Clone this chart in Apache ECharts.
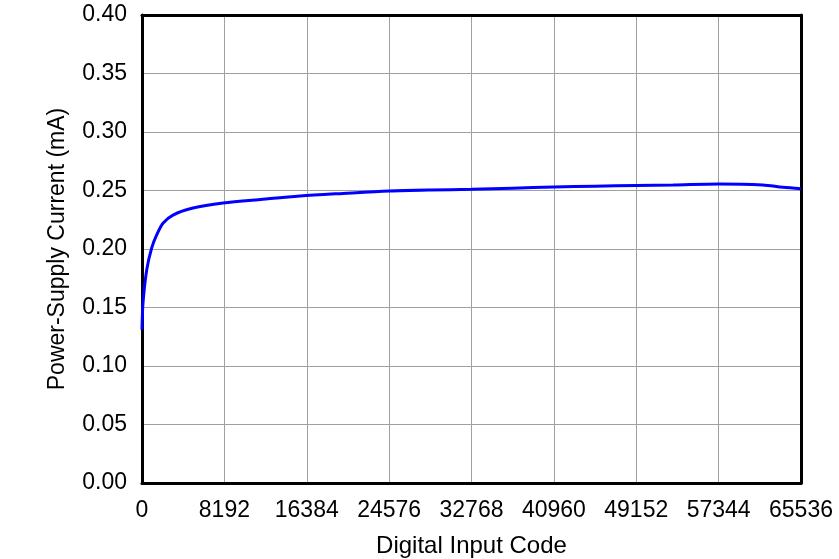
<!DOCTYPE html>
<html><head><meta charset="utf-8">
<script src="https://cdn.jsdelivr.net/npm/echarts@6/dist/echarts.min.js"></script>
<style>html,body{margin:0;padding:0;background:#fff}#c{width:839px;height:559px}</style>
</head><body><div id="c"></div>
<script>
const codes = [0, 100, 467, 964, 1461, 2088, 3082, 5070, 8053, 12000, 15708, 20000, 24576, 28672, 32768, 36864, 40960, 45056, 49152, 52800, 57344, 61740, 63730, 65536];
const current = [0.131, 0.154, 0.182, 0.201, 0.212, 0.222, 0.229, 0.235, 0.2393, 0.2425, 0.2453, 0.2475, 0.2496, 0.2505, 0.251, 0.252, 0.253, 0.2537, 0.2543, 0.2547, 0.2556, 0.2547, 0.2527, 0.2515];
const xTitle = 'Digital Input Code';
const yTitle = 'Power-Supply Current (mA)';

const font = 'Liberation Sans, Arial, sans-serif';
const chart = echarts.init(document.getElementById('c'), null, {renderer: 'canvas'});
const edgeAxis = {show: true, axisLine: {show: true, onZero: false, lineStyle: {color: '#000', width: 3}}, axisTick: {show: false}, axisLabel: {show: false}, splitLine: {show: false}};
chart.setOption({
  animation: false,
  grid: {left: 142, top: 15, right: 38, bottom: 76, containLabel: false, outerBoundsMode: 'none'},
  xAxis: [{
    type: 'value', min: 0, max: 65536, interval: 8192,
    name: xTitle, nameLocation: 'middle', nameGap: 51,
    nameTextStyle: {color: '#000', fontSize: 24, fontFamily: font},
    axisLine: {show: true, onZero: false, lineStyle: {color: '#000', width: 3}},
    axisTick: {show: false},
    axisLabel: {color: '#000', fontSize: 23, fontFamily: font, margin: 16, formatter: v => String(v)},
    splitLine: {show: true, showMinLine: false, showMaxLine: false, lineStyle: {color: '#a0a0a0', width: 1}}
  }, Object.assign({type: 'value', min: 0, max: 65536, position: 'top'}, edgeAxis)],
  yAxis: [{
    type: 'value', min: 0, max: 0.4, interval: 0.05,
    name: yTitle, nameLocation: 'middle', nameGap: 73,
    nameTextStyle: {color: '#000', fontSize: 23, fontFamily: font},
    axisLine: {show: true, onZero: false, lineStyle: {color: '#000', width: 3}},
    axisTick: {show: false},
    axisLabel: {color: '#000', fontSize: 23, fontFamily: font, margin: 15, formatter: v => v.toFixed(2)},
    splitLine: {show: true, showMinLine: false, showMaxLine: false, lineStyle: {color: '#a0a0a0', width: 1}}
  }, Object.assign({type: 'value', min: 0, max: 0.4, position: 'right'}, edgeAxis)],
  series: [{
    type: 'line', xAxisIndex: 0, yAxisIndex: 0,
    data: codes.map((c, i) => [c, current[i]]),
    showSymbol: false, smooth: 0.3,
    lineStyle: {color: '#0000ff', width: 3}, z: 1
  }]
});
</script></body></html>
